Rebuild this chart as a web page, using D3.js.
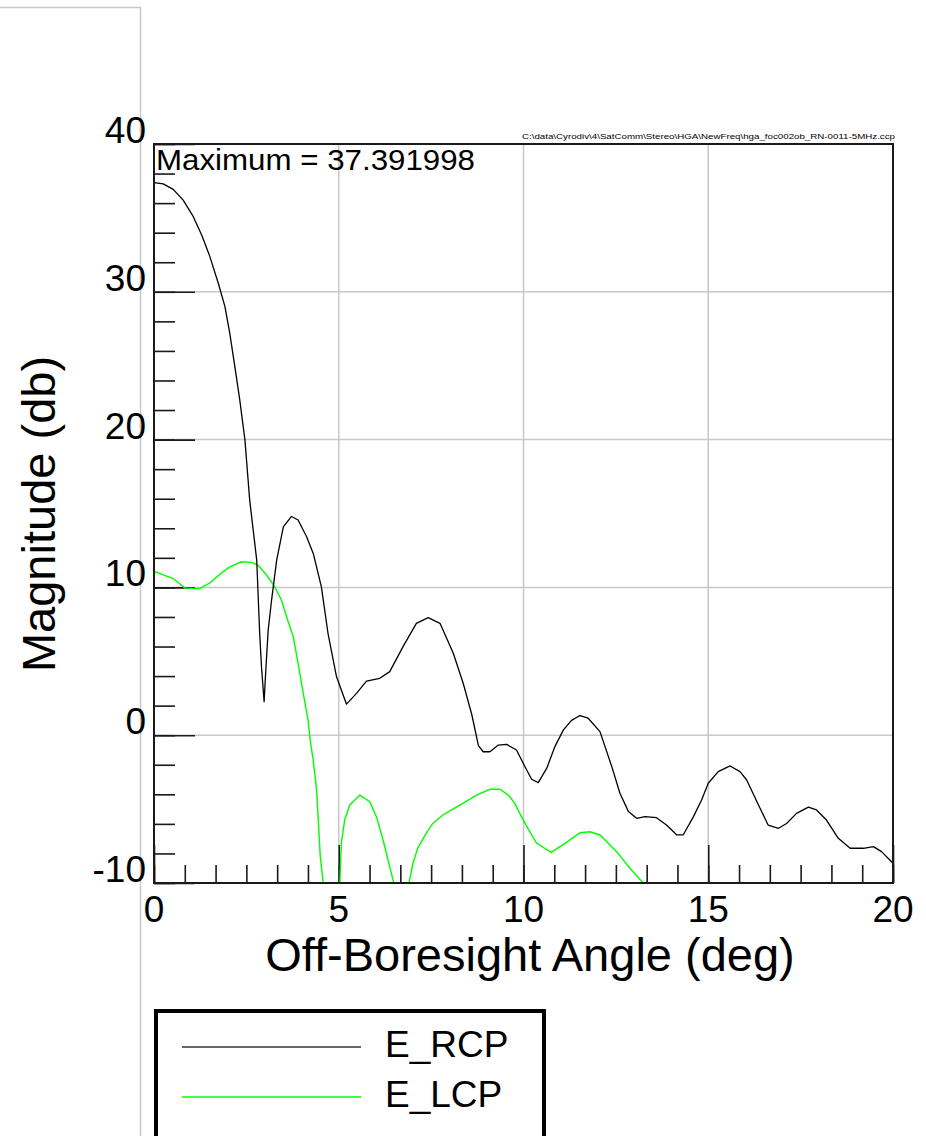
<!DOCTYPE html>
<html>
<head>
<meta charset="utf-8">
<script src="https://cdn.jsdelivr.net/npm/d3@7"></script>
<style>
  html, body { margin: 0; padding: 0; background: #fff; }
  svg { display: block; }
  text { font-family: "Liberation Sans", Arial, sans-serif; fill: #000; }
</style>
</head>
<body>
<svg id="chart" width="926" height="1136"></svg>
<script>
// ---- data ----
const rcpAngle = [0.00,0.25,0.52,0.79,1.06,1.29,1.51,1.74,1.92,2.05,2.19,2.32,2.46,2.59,2.78,2.86,2.91,2.98,3.03,3.09,3.18,3.32,3.50,3.72,3.90,4.13,4.31,4.53,4.71,4.94,5.21,5.48,5.75,6.11,6.38,6.74,7.10,7.42,7.74,8.10,8.37,8.60,8.78,8.91,9.09,9.32,9.54,9.81,10.04,10.22,10.40,10.63,10.85,11.08,11.30,11.53,11.75,12.07,12.39,12.61,12.84,13.06,13.29,13.60,13.87,14.15,14.32,14.60,14.82,15.00,15.27,15.59,15.86,16.04,16.36,16.62,16.90,17.12,17.39,17.71,17.93,18.20,18.52,18.84,19.20,19.47,19.69,19.96,20.00];
const rcpDb    = [37.39,37.30,36.93,36.20,35.10,33.85,32.40,30.58,29.00,27.20,24.90,22.70,20.00,15.90,11.85,6.90,4.60,2.27,4.60,7.10,9.10,11.85,14.10,14.80,14.56,13.43,12.30,10.04,6.88,3.95,2.10,2.83,3.66,3.85,4.30,5.99,7.57,7.95,7.57,5.54,3.50,1.40,-0.70,-1.12,-1.12,-0.67,-0.62,-1.00,-2.13,-2.98,-3.21,-2.23,-0.77,0.36,1.00,1.33,1.15,0.24,-2.13,-3.93,-5.17,-5.62,-5.51,-5.58,-6.08,-6.75,-6.75,-5.51,-4.38,-3.25,-2.46,-2.08,-2.46,-3.03,-4.72,-6.08,-6.30,-5.97,-5.29,-4.87,-5.06,-5.74,-6.98,-7.65,-7.65,-7.54,-7.88,-8.56,-8.70];

const lcpAngle = [0.00,0.25,0.52,0.84,1.24,1.51,1.83,2.05,2.37,2.64,2.82,3.05,3.27,3.45,3.59,3.77,3.90,4.04,4.17,4.23,4.31,4.40,4.50,4.58,4.75,5.00,5.03,5.07,5.16,5.30,5.57,5.84,6.02,6.20,6.38,6.49,6.70,6.90,7.01,7.14,7.37,7.55,7.82,8.10,8.37,8.73,9.09,9.36,9.59,9.76,10.04,10.35,10.75,11.16,11.53,11.80,12.07,12.52,12.88,13.24,13.60,14.00];
const lcpDb    = [11.10,10.85,10.60,9.96,9.92,10.30,10.98,11.39,11.73,11.69,11.50,10.82,10.03,9.13,8.00,6.66,4.86,2.83,1.02,-0.40,-1.70,-3.70,-8.20,-10.00,-22.0,-22.0,-10.00,-7.30,-5.74,-4.72,-4.05,-4.50,-5.51,-7.09,-8.90,-10.00,-16.0,-10.00,-8.65,-7.64,-6.63,-5.95,-5.40,-4.99,-4.60,-4.05,-3.66,-3.66,-4.05,-4.60,-5.97,-7.30,-7.93,-7.25,-6.60,-6.53,-6.75,-7.88,-9.00,-10.00,-11.5,-13.0];

const xTickValues = [0, 5, 10, 15, 20];
const yTickValues = [-10, 0, 10, 20, 30, 40];
const seriesNames = ["E_RCP", "E_LCP"];
const seriesColors = ["#000000", "#00ff00"];
const maxLabel = "Maximum = 37.391998";
const filePath = "C:\\data\\Cyrodiv\\4\\SatComm\\Stereo\\HGA\\NewFreq\\hga_foc002ob_RN-0011-5MHz.ccp";

// ---- layout ----
const svg = d3.select("#chart");
const L = 154, R = 893, T = 144, B = 883;
const x = d3.scaleLinear().domain([0, 20]).range([L, R]);
const y = d3.scaleLinear().domain([-10, 40]).range([B, T]);

svg.append("rect").attr("width", 926).attr("height", 1136).attr("fill", "#fff");

// outer light frame
svg.append("path").attr("d", "M0,7.5 H140.5 V1136")
  .attr("fill", "none").attr("stroke", "#c8c8c8").attr("stroke-width", 1.5);

// grid
const g = svg.append("g");
g.append("g").selectAll("line").data(xTickValues.slice(1, -1)).join("line")
  .attr("x1", d => x(d)).attr("x2", d => x(d)).attr("y1", T).attr("y2", B)
  .attr("stroke", "#c8c8c8").attr("stroke-width", 1.5);
g.append("g").selectAll("line").data(yTickValues.slice(1, -1)).join("line")
  .attr("y1", d => y(d)).attr("y2", d => y(d)).attr("x1", L).attr("x2", R)
  .attr("stroke", "#c8c8c8").attr("stroke-width", 1.5);

// ticks via d3 axes (no labels)
function styleAxis(sel) {
  sel.select(".domain").remove();
  sel.selectAll(".tick line").attr("stroke", "#1a1a1a").attr("stroke-width", 1.6);
  sel.selectAll(".tick text").remove();
}
const yMinor = d3.range(-10, 40.001, 2);
svg.append("g").attr("transform", `translate(${L},0)`)
  .call(d3.axisRight(y).tickValues(yMinor).tickSize(21).tickFormat(""))
  .call(styleAxis);
svg.append("g").attr("transform", `translate(${L},0)`)
  .call(d3.axisRight(y).tickValues(yTickValues).tickSize(41).tickFormat(""))
  .call(styleAxis);
const xMinor = d3.range(0, 25).map(i => i * 5 / 6);
svg.append("g").attr("transform", `translate(0,${B})`)
  .call(d3.axisTop(x).tickValues(xMinor).tickSize(18).tickFormat(""))
  .call(styleAxis);
svg.append("g").attr("transform", `translate(0,${B})`)
  .call(d3.axisTop(x).tickValues(xTickValues).tickSize(38).tickFormat(""))
  .call(styleAxis);

// clip for curves
svg.append("defs").append("clipPath").attr("id", "plotclip")
  .append("rect").attr("x", L).attr("y", T).attr("width", R - L).attr("height", B - T);

const line = d3.line().x(d => x(d[0])).y(d => y(d[1])).curve(d3.curveLinear);
const lcpData = lcpAngle.map((a, i) => [a, lcpDb[i]]);
const rcpData = rcpAngle.map((a, i) => [a, rcpDb[i]]);
const curves = svg.append("g").attr("clip-path", "url(#plotclip)");
curves.append("path").datum(lcpData).attr("d", line)
  .attr("fill", "none").attr("stroke", seriesColors[1]).attr("stroke-width", 1.4);
curves.append("path").datum(rcpData).attr("d", line)
  .attr("fill", "none").attr("stroke", seriesColors[0]).attr("stroke-width", 1.3)
  .attr("stroke-linejoin", "round");

// plot border
svg.append("rect").attr("x", L).attr("y", T).attr("width", R - L).attr("height", B - T)
  .attr("fill", "none").attr("stroke", "#1a1a1a").attr("stroke-width", 2);

// tick labels
svg.append("g").selectAll("text").data(yTickValues).join("text")
  .attr("x", 146).attr("y", d => y(d) - 1)
  .attr("text-anchor", "end").attr("font-size", 37)
  .text(d => d);
svg.append("g").selectAll("text").data(xTickValues).join("text")
  .attr("x", d => x(d)).attr("y", 922)
  .attr("text-anchor", "middle").attr("font-size", 37)
  .text(d => d);

// axis titles
svg.append("text").attr("transform", "translate(55,514) rotate(-90)")
  .attr("text-anchor", "middle").attr("font-size", 47).text("Magnitude (db)");
svg.append("text").attr("x", 530).attr("y", 971)
  .attr("text-anchor", "middle").attr("font-size", 47).text("Off-Boresight Angle (deg)");

// maximum annotation
svg.append("text").attr("x", 156).attr("y", 170).attr("font-size", 29)
  .attr("textLength", 319).attr("lengthAdjust", "spacingAndGlyphs").text(maxLabel);

// file path text
svg.append("text").attr("x", 522).attr("y", 139).attr("font-size", 8)
  .attr("textLength", 373).attr("lengthAdjust", "spacingAndGlyphs").text(filePath);

// legend
const leg = svg.append("g");
leg.append("rect").attr("x", 156).attr("y", 1011).attr("width", 388).attr("height", 160)
  .attr("fill", "#fff").attr("stroke", "#000").attr("stroke-width", 4);
const legY = [1047, 1097];
seriesNames.forEach((name, i) => {
  leg.append("line").attr("x1", 182).attr("x2", 361).attr("y1", legY[i]).attr("y2", legY[i])
    .attr("stroke", i === 0 ? "#333" : seriesColors[i]).attr("stroke-width", 1.6);
  leg.append("text").attr("x", 385).attr("y", legY[i] + 10).attr("font-size", 37)
    .text(name);
});
</script>
</body>
</html>
